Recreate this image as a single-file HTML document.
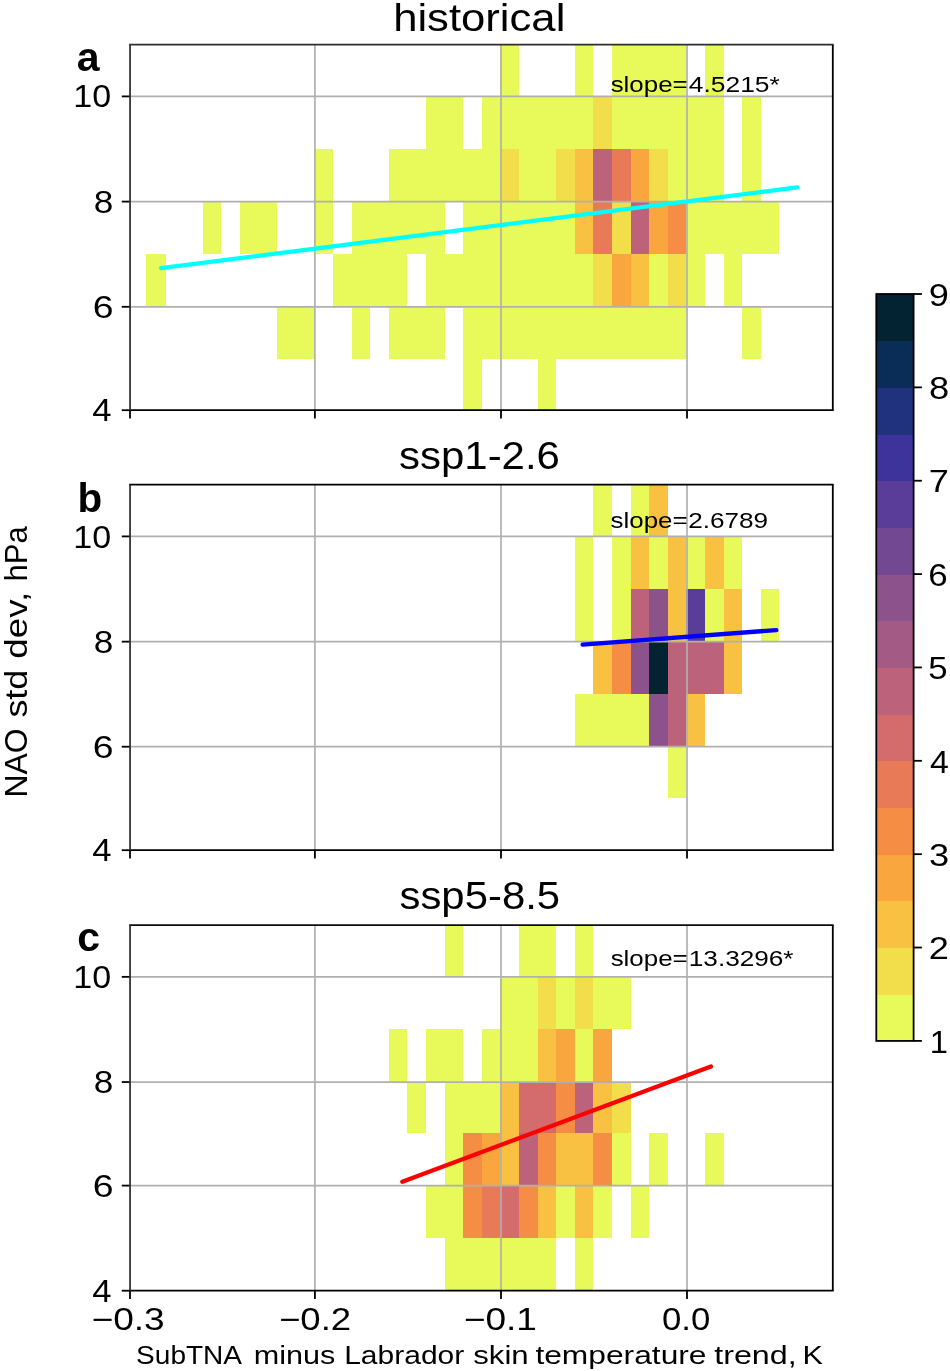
<!DOCTYPE html>
<html><head><meta charset="utf-8"><title>NAO std dev vs SST trend</title>
<style>html,body{margin:0;padding:0;background:#fff}svg{display:block;will-change:transform;filter:blur(0.5px)}#labels{opacity:0.999}text{font-family:"Liberation Sans",sans-serif;fill:#000}</style></head><body>
<svg width="950" height="1371" viewBox="0 0 950 1371">
<rect x="0" y="0" width="950" height="1371" fill="#ffffff"/>
<g id="panel-a">
<g shape-rendering="crispEdges">
<rect x="500.40" y="44.70" width="18.60" height="51.70" fill="#e7fa5a"/>
<rect x="574.80" y="44.70" width="18.60" height="51.70" fill="#e7fa5a"/>
<rect x="612.00" y="44.70" width="74.40" height="51.70" fill="#e7fa5a"/>
<rect x="705.00" y="44.70" width="18.60" height="51.70" fill="#e7fa5a"/>
<rect x="426.00" y="96.40" width="37.20" height="52.10" fill="#e7fa5a"/>
<rect x="481.80" y="96.40" width="111.60" height="52.10" fill="#e7fa5a"/>
<rect x="593.40" y="96.40" width="18.60" height="52.10" fill="#f2dd4b"/>
<rect x="612.00" y="96.40" width="111.60" height="52.10" fill="#e7fa5a"/>
<rect x="742.20" y="96.40" width="18.60" height="52.10" fill="#e7fa5a"/>
<rect x="314.40" y="148.50" width="18.60" height="53.10" fill="#e7fa5a"/>
<rect x="388.80" y="148.50" width="111.60" height="53.10" fill="#e7fa5a"/>
<rect x="500.40" y="148.50" width="18.60" height="53.10" fill="#f2dd4b"/>
<rect x="519.00" y="148.50" width="37.20" height="53.10" fill="#e7fa5a"/>
<rect x="556.20" y="148.50" width="18.60" height="53.10" fill="#f2dd4b"/>
<rect x="574.80" y="148.50" width="18.60" height="53.10" fill="#f8c141"/>
<rect x="593.40" y="148.50" width="18.60" height="53.10" fill="#bc637b"/>
<rect x="612.00" y="148.50" width="18.60" height="53.10" fill="#e87a58"/>
<rect x="630.60" y="148.50" width="18.60" height="53.10" fill="#faa63e"/>
<rect x="649.20" y="148.50" width="18.60" height="53.10" fill="#f2dd4b"/>
<rect x="667.80" y="148.50" width="55.80" height="53.10" fill="#e7fa5a"/>
<rect x="742.20" y="148.50" width="18.60" height="53.10" fill="#e7fa5a"/>
<rect x="202.80" y="201.60" width="18.60" height="52.20" fill="#e7fa5a"/>
<rect x="240.00" y="201.60" width="37.20" height="52.20" fill="#e7fa5a"/>
<rect x="314.40" y="201.60" width="18.60" height="52.20" fill="#e7fa5a"/>
<rect x="351.60" y="201.60" width="93.00" height="52.20" fill="#e7fa5a"/>
<rect x="463.20" y="201.60" width="111.60" height="52.20" fill="#e7fa5a"/>
<rect x="574.80" y="201.60" width="18.60" height="52.20" fill="#f8c141"/>
<rect x="593.40" y="201.60" width="18.60" height="52.20" fill="#e87a58"/>
<rect x="612.00" y="201.60" width="18.60" height="52.20" fill="#f2dd4b"/>
<rect x="630.60" y="201.60" width="18.60" height="52.20" fill="#bc637b"/>
<rect x="649.20" y="201.60" width="18.60" height="52.20" fill="#faa63e"/>
<rect x="667.80" y="201.60" width="18.60" height="52.20" fill="#f68d44"/>
<rect x="686.40" y="201.60" width="93.00" height="52.20" fill="#e7fa5a"/>
<rect x="146.00" y="253.80" width="19.60" height="53.00" fill="#e7fa5a"/>
<rect x="333.00" y="253.80" width="74.40" height="53.00" fill="#e7fa5a"/>
<rect x="426.00" y="253.80" width="167.40" height="53.00" fill="#e7fa5a"/>
<rect x="593.40" y="253.80" width="18.60" height="53.00" fill="#f2dd4b"/>
<rect x="612.00" y="253.80" width="18.60" height="53.00" fill="#faa63e"/>
<rect x="630.60" y="253.80" width="18.60" height="53.00" fill="#f8c141"/>
<rect x="649.20" y="253.80" width="18.60" height="53.00" fill="#e7fa5a"/>
<rect x="667.80" y="253.80" width="18.60" height="53.00" fill="#f2dd4b"/>
<rect x="686.40" y="253.80" width="18.60" height="53.00" fill="#e7fa5a"/>
<rect x="723.60" y="253.80" width="18.60" height="53.00" fill="#e7fa5a"/>
<rect x="277.20" y="306.80" width="37.20" height="52.20" fill="#e7fa5a"/>
<rect x="351.60" y="306.80" width="18.60" height="52.20" fill="#e7fa5a"/>
<rect x="388.80" y="306.80" width="55.80" height="52.20" fill="#e7fa5a"/>
<rect x="463.20" y="306.80" width="223.20" height="52.20" fill="#e7fa5a"/>
<rect x="742.20" y="306.80" width="18.60" height="52.20" fill="#e7fa5a"/>
<rect x="463.20" y="359.00" width="18.60" height="51.20" fill="#e7fa5a"/>
<rect x="537.60" y="359.00" width="18.60" height="51.20" fill="#e7fa5a"/>
</g>
<g stroke="#b0b0b0" stroke-width="1.7" fill="none">
<line x1="314.9" y1="44.7" x2="314.9" y2="410.2"/>
<line x1="501.0" y1="44.7" x2="501.0" y2="410.2"/>
<line x1="687.0" y1="44.7" x2="687.0" y2="410.2"/>
<line x1="130.05" y1="96.40" x2="832.8" y2="96.40"/>
<line x1="130.05" y1="201.60" x2="832.8" y2="201.60"/>
<line x1="130.05" y1="306.80" x2="832.8" y2="306.80"/>
</g>
<line x1="161.2" y1="268.2" x2="797.2" y2="187.4" stroke="#00ffff" stroke-width="4.3" stroke-linecap="round"/>
<g stroke="#000" stroke-width="1.8">
<line x1="130.0" y1="410.2" x2="130.0" y2="418.50"/>
<line x1="314.9" y1="410.2" x2="314.9" y2="418.50"/>
<line x1="501.0" y1="410.2" x2="501.0" y2="418.50"/>
<line x1="687.0" y1="410.2" x2="687.0" y2="418.50"/>
<line x1="130.05" y1="96.40" x2="121.75" y2="96.40"/>
<line x1="130.05" y1="201.60" x2="121.75" y2="201.60"/>
<line x1="130.05" y1="306.80" x2="121.75" y2="306.80"/>
<line x1="130.05" y1="410.20" x2="121.75" y2="410.20"/>
</g>
<g stroke-width="1.8" stroke-linecap="butt">
<line x1="129.15" y1="44.7" x2="833.70" y2="44.7" stroke="#2e2e2e"/>
<line x1="129.15" y1="410.2" x2="833.70" y2="410.2" stroke="#000"/>
<line x1="130.05" y1="44.7" x2="130.05" y2="410.2" stroke="#333"/>
<line x1="832.8" y1="44.7" x2="832.8" y2="410.2" stroke="#000"/>
</g>
</g>
<g id="panel-b">
<g shape-rendering="crispEdges">
<rect x="593.40" y="484.70" width="18.60" height="51.70" fill="#e7fa5a"/>
<rect x="630.60" y="484.70" width="18.60" height="51.70" fill="#e7fa5a"/>
<rect x="649.20" y="484.70" width="18.60" height="51.70" fill="#f8c141"/>
<rect x="574.80" y="536.40" width="18.60" height="52.40" fill="#e7fa5a"/>
<rect x="612.00" y="536.40" width="18.60" height="52.40" fill="#e7fa5a"/>
<rect x="630.60" y="536.40" width="18.60" height="52.40" fill="#f8c141"/>
<rect x="649.20" y="536.40" width="18.60" height="52.40" fill="#e7fa5a"/>
<rect x="667.80" y="536.40" width="18.60" height="52.40" fill="#f8c141"/>
<rect x="686.40" y="536.40" width="18.60" height="52.40" fill="#e7fa5a"/>
<rect x="705.00" y="536.40" width="18.60" height="52.40" fill="#f8c141"/>
<rect x="723.60" y="536.40" width="18.60" height="52.40" fill="#e7fa5a"/>
<rect x="574.80" y="588.80" width="18.60" height="52.80" fill="#e7fa5a"/>
<rect x="612.00" y="588.80" width="18.60" height="52.80" fill="#e7fa5a"/>
<rect x="630.60" y="588.80" width="18.60" height="52.80" fill="#bc637b"/>
<rect x="649.20" y="588.80" width="18.60" height="52.80" fill="#8b528c"/>
<rect x="667.80" y="588.80" width="18.60" height="52.80" fill="#f8c141"/>
<rect x="686.40" y="588.80" width="18.60" height="52.80" fill="#5a3d99"/>
<rect x="705.00" y="588.80" width="18.60" height="52.80" fill="#e7fa5a"/>
<rect x="723.60" y="588.80" width="18.60" height="52.80" fill="#f8c141"/>
<rect x="760.80" y="588.80" width="18.60" height="52.80" fill="#e7fa5a"/>
<rect x="593.40" y="641.60" width="18.60" height="52.00" fill="#f8c141"/>
<rect x="612.00" y="641.60" width="18.60" height="52.00" fill="#f68d44"/>
<rect x="630.60" y="641.60" width="18.60" height="52.00" fill="#8b528c"/>
<rect x="649.20" y="641.60" width="18.60" height="52.00" fill="#032333"/>
<rect x="667.80" y="641.60" width="18.60" height="52.00" fill="#bc637b"/>
<rect x="686.40" y="641.60" width="37.20" height="52.00" fill="#bc637b"/>
<rect x="723.60" y="641.60" width="18.60" height="52.00" fill="#f8c141"/>
<rect x="574.80" y="693.60" width="74.40" height="52.40" fill="#e7fa5a"/>
<rect x="649.20" y="693.60" width="18.60" height="52.40" fill="#8b528c"/>
<rect x="667.80" y="693.60" width="18.60" height="52.40" fill="#bc637b"/>
<rect x="686.40" y="693.60" width="18.60" height="52.40" fill="#f8c141"/>
<rect x="667.80" y="746.00" width="18.60" height="51.50" fill="#e7fa5a"/>
</g>
<g stroke="#b0b0b0" stroke-width="1.7" fill="none">
<line x1="314.9" y1="484.7" x2="314.9" y2="850.2"/>
<line x1="501.0" y1="484.7" x2="501.0" y2="850.2"/>
<line x1="687.0" y1="484.7" x2="687.0" y2="850.2"/>
<line x1="130.05" y1="536.40" x2="832.8" y2="536.40"/>
<line x1="130.05" y1="641.65" x2="832.8" y2="641.65"/>
<line x1="130.05" y1="746.70" x2="832.8" y2="746.70"/>
</g>
<line x1="582.6" y1="644.6" x2="776.4" y2="630.1" stroke="#0000ff" stroke-width="4.3" stroke-linecap="round"/>
<g stroke="#000" stroke-width="1.8">
<line x1="130.0" y1="850.2" x2="130.0" y2="858.50"/>
<line x1="314.9" y1="850.2" x2="314.9" y2="858.50"/>
<line x1="501.0" y1="850.2" x2="501.0" y2="858.50"/>
<line x1="687.0" y1="850.2" x2="687.0" y2="858.50"/>
<line x1="130.05" y1="536.40" x2="121.75" y2="536.40"/>
<line x1="130.05" y1="641.65" x2="121.75" y2="641.65"/>
<line x1="130.05" y1="746.70" x2="121.75" y2="746.70"/>
<line x1="130.05" y1="850.20" x2="121.75" y2="850.20"/>
</g>
<g stroke-width="1.8" stroke-linecap="butt">
<line x1="129.15" y1="484.7" x2="833.70" y2="484.7" stroke="#000"/>
<line x1="129.15" y1="850.2" x2="833.70" y2="850.2" stroke="#000"/>
<line x1="130.05" y1="484.7" x2="130.05" y2="850.2" stroke="#333"/>
<line x1="832.8" y1="484.7" x2="832.8" y2="850.2" stroke="#000"/>
</g>
</g>
<g id="panel-c">
<g shape-rendering="crispEdges">
<rect x="444.60" y="925.10" width="18.60" height="51.80" fill="#e7fa5a"/>
<rect x="519.00" y="925.10" width="37.20" height="51.80" fill="#e7fa5a"/>
<rect x="574.80" y="925.10" width="18.60" height="51.80" fill="#e7fa5a"/>
<rect x="500.40" y="976.90" width="37.20" height="52.10" fill="#e7fa5a"/>
<rect x="537.60" y="976.90" width="18.60" height="52.10" fill="#f2dd4b"/>
<rect x="556.20" y="976.90" width="18.60" height="52.10" fill="#e7fa5a"/>
<rect x="574.80" y="976.90" width="18.60" height="52.10" fill="#f2dd4b"/>
<rect x="593.40" y="976.90" width="37.20" height="52.10" fill="#e7fa5a"/>
<rect x="388.80" y="1029.00" width="18.60" height="52.60" fill="#e7fa5a"/>
<rect x="426.00" y="1029.00" width="37.20" height="52.60" fill="#e7fa5a"/>
<rect x="481.80" y="1029.00" width="55.80" height="52.60" fill="#e7fa5a"/>
<rect x="537.60" y="1029.00" width="18.60" height="52.60" fill="#f8c141"/>
<rect x="556.20" y="1029.00" width="18.60" height="52.60" fill="#faa63e"/>
<rect x="574.80" y="1029.00" width="18.60" height="52.60" fill="#e7fa5a"/>
<rect x="593.40" y="1029.00" width="18.60" height="52.60" fill="#faa63e"/>
<rect x="407.40" y="1081.60" width="18.60" height="51.40" fill="#e7fa5a"/>
<rect x="444.60" y="1081.60" width="55.80" height="51.40" fill="#e7fa5a"/>
<rect x="500.40" y="1081.60" width="18.60" height="51.40" fill="#f8c141"/>
<rect x="519.00" y="1081.60" width="37.20" height="51.40" fill="#d46c6b"/>
<rect x="556.20" y="1081.60" width="18.60" height="51.40" fill="#f68d44"/>
<rect x="574.80" y="1081.60" width="18.60" height="51.40" fill="#bc637b"/>
<rect x="593.40" y="1081.60" width="18.60" height="51.40" fill="#f8c141"/>
<rect x="612.00" y="1081.60" width="18.60" height="51.40" fill="#f2dd4b"/>
<rect x="444.60" y="1133.00" width="18.60" height="52.60" fill="#e7fa5a"/>
<rect x="463.20" y="1133.00" width="18.60" height="52.60" fill="#f68d44"/>
<rect x="481.80" y="1133.00" width="18.60" height="52.60" fill="#faa63e"/>
<rect x="500.40" y="1133.00" width="18.60" height="52.60" fill="#f8c141"/>
<rect x="519.00" y="1133.00" width="18.60" height="52.60" fill="#bc637b"/>
<rect x="537.60" y="1133.00" width="18.60" height="52.60" fill="#f68d44"/>
<rect x="556.20" y="1133.00" width="37.20" height="52.60" fill="#f8c141"/>
<rect x="593.40" y="1133.00" width="18.60" height="52.60" fill="#f68d44"/>
<rect x="612.00" y="1133.00" width="18.60" height="52.60" fill="#e7fa5a"/>
<rect x="649.20" y="1133.00" width="18.60" height="52.60" fill="#e7fa5a"/>
<rect x="705.00" y="1133.00" width="18.60" height="52.60" fill="#e7fa5a"/>
<rect x="426.00" y="1185.60" width="37.20" height="52.20" fill="#e7fa5a"/>
<rect x="463.20" y="1185.60" width="18.60" height="52.20" fill="#f68d44"/>
<rect x="481.80" y="1185.60" width="18.60" height="52.20" fill="#e87a58"/>
<rect x="500.40" y="1185.60" width="18.60" height="52.20" fill="#d46c6b"/>
<rect x="519.00" y="1185.60" width="18.60" height="52.20" fill="#f68d44"/>
<rect x="537.60" y="1185.60" width="18.60" height="52.20" fill="#f8c141"/>
<rect x="556.20" y="1185.60" width="18.60" height="52.20" fill="#e7fa5a"/>
<rect x="574.80" y="1185.60" width="18.60" height="52.20" fill="#f8c141"/>
<rect x="593.40" y="1185.60" width="18.60" height="52.20" fill="#e7fa5a"/>
<rect x="630.60" y="1185.60" width="18.60" height="52.20" fill="#e7fa5a"/>
<rect x="444.60" y="1237.80" width="111.60" height="52.90" fill="#e7fa5a"/>
<rect x="574.80" y="1237.80" width="18.60" height="52.90" fill="#e7fa5a"/>
</g>
<g stroke="#b0b0b0" stroke-width="1.7" fill="none">
<line x1="314.9" y1="925.1" x2="314.9" y2="1290.7"/>
<line x1="501.0" y1="925.1" x2="501.0" y2="1290.7"/>
<line x1="687.0" y1="925.1" x2="687.0" y2="1290.7"/>
<line x1="130.05" y1="976.85" x2="832.8" y2="976.85"/>
<line x1="130.05" y1="1082.05" x2="832.8" y2="1082.05"/>
<line x1="130.05" y1="1185.60" x2="832.8" y2="1185.60"/>
</g>
<line x1="402.3" y1="1181.7" x2="710.9" y2="1066.5" stroke="#ff0000" stroke-width="4.3" stroke-linecap="round"/>
<g stroke="#000" stroke-width="1.8">
<line x1="130.0" y1="1290.7" x2="130.0" y2="1299.00"/>
<line x1="314.9" y1="1290.7" x2="314.9" y2="1299.00"/>
<line x1="501.0" y1="1290.7" x2="501.0" y2="1299.00"/>
<line x1="687.0" y1="1290.7" x2="687.0" y2="1299.00"/>
<line x1="130.05" y1="976.85" x2="121.75" y2="976.85"/>
<line x1="130.05" y1="1082.05" x2="121.75" y2="1082.05"/>
<line x1="130.05" y1="1185.60" x2="121.75" y2="1185.60"/>
<line x1="130.05" y1="1290.70" x2="121.75" y2="1290.70"/>
</g>
<g stroke-width="1.8" stroke-linecap="butt">
<line x1="129.15" y1="925.1" x2="833.70" y2="925.1" stroke="#0c0c0c"/>
<line x1="129.15" y1="1290.7" x2="833.70" y2="1290.7" stroke="#000"/>
<line x1="130.05" y1="925.1" x2="130.05" y2="1290.7" stroke="#333"/>
<line x1="832.8" y1="925.1" x2="832.8" y2="1290.7" stroke="#000"/>
</g>
</g>
<g id="colorbar">
<g shape-rendering="crispEdges">
<rect x="876.3" y="994.22" width="37.30" height="47.28" fill="#e7fa5a"/>
<rect x="876.3" y="947.54" width="37.30" height="47.28" fill="#f2dd4b"/>
<rect x="876.3" y="900.86" width="37.30" height="47.28" fill="#f8c141"/>
<rect x="876.3" y="854.18" width="37.30" height="47.28" fill="#faa63e"/>
<rect x="876.3" y="807.49" width="37.30" height="47.28" fill="#f68d44"/>
<rect x="876.3" y="760.81" width="37.30" height="47.28" fill="#e87a58"/>
<rect x="876.3" y="714.13" width="37.30" height="47.28" fill="#d46c6b"/>
<rect x="876.3" y="667.45" width="37.30" height="47.28" fill="#bc637b"/>
<rect x="876.3" y="620.77" width="37.30" height="47.28" fill="#a35a85"/>
<rect x="876.3" y="574.09" width="37.30" height="47.28" fill="#8b528c"/>
<rect x="876.3" y="527.41" width="37.30" height="47.28" fill="#734892"/>
<rect x="876.3" y="480.73" width="37.30" height="47.28" fill="#5a3d99"/>
<rect x="876.3" y="434.04" width="37.30" height="47.28" fill="#3d349b"/>
<rect x="876.3" y="387.36" width="37.30" height="47.28" fill="#20317e"/>
<rect x="876.3" y="340.68" width="37.30" height="47.28" fill="#0a2d57"/>
<rect x="876.3" y="294.00" width="37.30" height="47.28" fill="#032333"/>
</g>
<g stroke="#000" stroke-width="1.8">
<line x1="913.6" y1="1040.90" x2="921.90" y2="1040.90"/>
<line x1="913.6" y1="947.54" x2="921.90" y2="947.54"/>
<line x1="913.6" y1="854.18" x2="921.90" y2="854.18"/>
<line x1="913.6" y1="760.81" x2="921.90" y2="760.81"/>
<line x1="913.6" y1="667.45" x2="921.90" y2="667.45"/>
<line x1="913.6" y1="574.09" x2="921.90" y2="574.09"/>
<line x1="913.6" y1="480.73" x2="921.90" y2="480.73"/>
<line x1="913.6" y1="387.36" x2="921.90" y2="387.36"/>
<line x1="913.6" y1="294.00" x2="921.90" y2="294.00"/>
</g>
<rect x="876.3" y="294.0" width="37.30" height="746.90" fill="none" stroke="#000" stroke-width="1.8"/>
</g>
<g id="labels">
<text id="ta" x="393.15" y="31.10" font-size="38" textLength="172.21" lengthAdjust="spacingAndGlyphs">historical</text>
<text id="tb" x="399.00" y="469.10" font-size="38" textLength="160.96" lengthAdjust="spacingAndGlyphs">ssp1-2.6</text>
<text id="tc" x="399.50" y="909.10" font-size="38" textLength="160.58" lengthAdjust="spacingAndGlyphs">ssp5-8.5</text>
<text id="la" x="76.70" y="71.20" font-size="41" font-weight="bold">a</text>
<text id="lb" x="77.40" y="511.70" font-size="40.5" font-weight="bold">b</text>
<text id="lc" x="77.20" y="950.70" font-size="41" font-weight="bold">c</text>
<text id="ya10" x="73.20" y="107.29" font-size="31" textLength="37.89" lengthAdjust="spacingAndGlyphs">10</text>
<text id="ya8" x="93.80" y="213.26" font-size="31" textLength="19.56" lengthAdjust="spacingAndGlyphs">8</text>
<text id="ya6" x="92.80" y="318.43" font-size="31" textLength="20.79" lengthAdjust="spacingAndGlyphs">6</text>
<text id="ya4" x="92.20" y="421.20" font-size="31" textLength="19.30" lengthAdjust="spacingAndGlyphs">4</text>
<text id="yb10" x="73.20" y="548.03" font-size="31" textLength="37.89" lengthAdjust="spacingAndGlyphs">10</text>
<text id="yb8" x="93.80" y="653.04" font-size="31" textLength="19.56" lengthAdjust="spacingAndGlyphs">8</text>
<text id="yb6" x="92.80" y="758.24" font-size="31" textLength="20.79" lengthAdjust="spacingAndGlyphs">6</text>
<text id="yb4" x="92.20" y="861.00" font-size="31" textLength="19.30" lengthAdjust="spacingAndGlyphs">4</text>
<text id="yc10" x="73.20" y="987.75" font-size="31" textLength="37.89" lengthAdjust="spacingAndGlyphs">10</text>
<text id="yc8" x="93.80" y="1092.95" font-size="31" textLength="19.56" lengthAdjust="spacingAndGlyphs">8</text>
<text id="yc6" x="92.80" y="1197.20" font-size="31" textLength="20.79" lengthAdjust="spacingAndGlyphs">6</text>
<text id="yc4" x="92.20" y="1302.10" font-size="31" textLength="19.30" lengthAdjust="spacingAndGlyphs">4</text>
<text id="x−0.3" x="91.50" y="1330.10" font-size="31" textLength="73.20" lengthAdjust="spacingAndGlyphs">−0.3</text>
<text id="x−0.2" x="279.00" y="1330.10" font-size="31" textLength="72.20" lengthAdjust="spacingAndGlyphs">−0.2</text>
<text id="x−0.1" x="463.80" y="1330.10" font-size="31" textLength="73.16" lengthAdjust="spacingAndGlyphs">−0.1</text>
<text id="x0.0" x="662.00" y="1330.10" font-size="31" textLength="48.37" lengthAdjust="spacingAndGlyphs">0.0</text>
<text id="c1" x="929.65" y="1053.10" font-size="31" textLength="18.18" lengthAdjust="spacingAndGlyphs">1</text>
<text id="c2" x="928.70" y="959.36" font-size="31" textLength="20.14" lengthAdjust="spacingAndGlyphs">2</text>
<text id="c3" x="929.00" y="865.83" font-size="31" textLength="20.22" lengthAdjust="spacingAndGlyphs">3</text>
<text id="c4" x="930.00" y="772.79" font-size="31" textLength="18.87" lengthAdjust="spacingAndGlyphs">4</text>
<text id="c5" x="928.20" y="678.75" font-size="31" textLength="19.35" lengthAdjust="spacingAndGlyphs">5</text>
<text id="c6" x="928.20" y="586.21" font-size="31" textLength="19.41" lengthAdjust="spacingAndGlyphs">6</text>
<text id="c7" x="928.70" y="492.48" font-size="31" textLength="20.14" lengthAdjust="spacingAndGlyphs">7</text>
<text id="c8" x="929.00" y="399.14" font-size="31" textLength="20.22" lengthAdjust="spacingAndGlyphs">8</text>
<text id="c9" x="928.70" y="305.60" font-size="31" textLength="20.14" lengthAdjust="spacingAndGlyphs">9</text>
<text id="xl0" x="136.10" y="1363.60" font-size="26.5" textLength="105.94" lengthAdjust="spacingAndGlyphs">SubTNA</text>
<text id="xl1" x="253.80" y="1363.60" font-size="26.5" textLength="81.54" lengthAdjust="spacingAndGlyphs">minus</text>
<text id="xl2" x="344.20" y="1363.60" font-size="26.5" textLength="120.09" lengthAdjust="spacingAndGlyphs">Labrador</text>
<text id="xl3" x="473.20" y="1363.60" font-size="26.5" textLength="55.49" lengthAdjust="spacingAndGlyphs">skin</text>
<text id="xl4" x="535.40" y="1363.60" font-size="26.5" textLength="171.13" lengthAdjust="spacingAndGlyphs">temperature</text>
<text id="xl5" x="714.20" y="1363.60" font-size="26.5" textLength="82.55" lengthAdjust="spacingAndGlyphs">trend,</text>
<text id="xl6" x="802.60" y="1363.60" font-size="26.5" textLength="20.42" lengthAdjust="spacingAndGlyphs">K</text>
<text id="sa0" x="610.65" y="92.00" font-size="22.5" textLength="77.09" lengthAdjust="spacingAndGlyphs">slope=</text>
<text id="sa1" x="688.75" y="92.00" font-size="22.5" textLength="91.03" lengthAdjust="spacingAndGlyphs">4.5215*</text>
<text id="sb0" x="610.60" y="528.40" font-size="22.5" textLength="77.05" lengthAdjust="spacingAndGlyphs">slope=</text>
<text id="sb1" x="688.20" y="528.40" font-size="22.5" textLength="79.89" lengthAdjust="spacingAndGlyphs">2.6789</text>
<text id="sc0" x="610.65" y="965.80" font-size="22.5" textLength="77.09" lengthAdjust="spacingAndGlyphs">slope=</text>
<text id="sc1" x="688.80" y="965.80" font-size="22.5" textLength="104.69" lengthAdjust="spacingAndGlyphs">13.3296*</text>
<text id="yl0" transform="translate(27.40,797.50) rotate(-90)" x="0" y="0" font-size="32" textLength="69.05" lengthAdjust="spacingAndGlyphs">NAO</text>
<text id="yl1" transform="translate(27.40,717.62) rotate(-90)" x="0" y="0" font-size="32" textLength="47.97" lengthAdjust="spacingAndGlyphs">std</text>
<text id="yl2" transform="translate(27.40,658.65) rotate(-90)" x="0" y="0" font-size="32" textLength="66.81" lengthAdjust="spacingAndGlyphs">dev,</text>
<text id="yl3" transform="translate(27.40,581.50) rotate(-90)" x="0" y="0" font-size="32" textLength="55.29" lengthAdjust="spacingAndGlyphs">hPa</text>
</g>
</svg></body></html>
